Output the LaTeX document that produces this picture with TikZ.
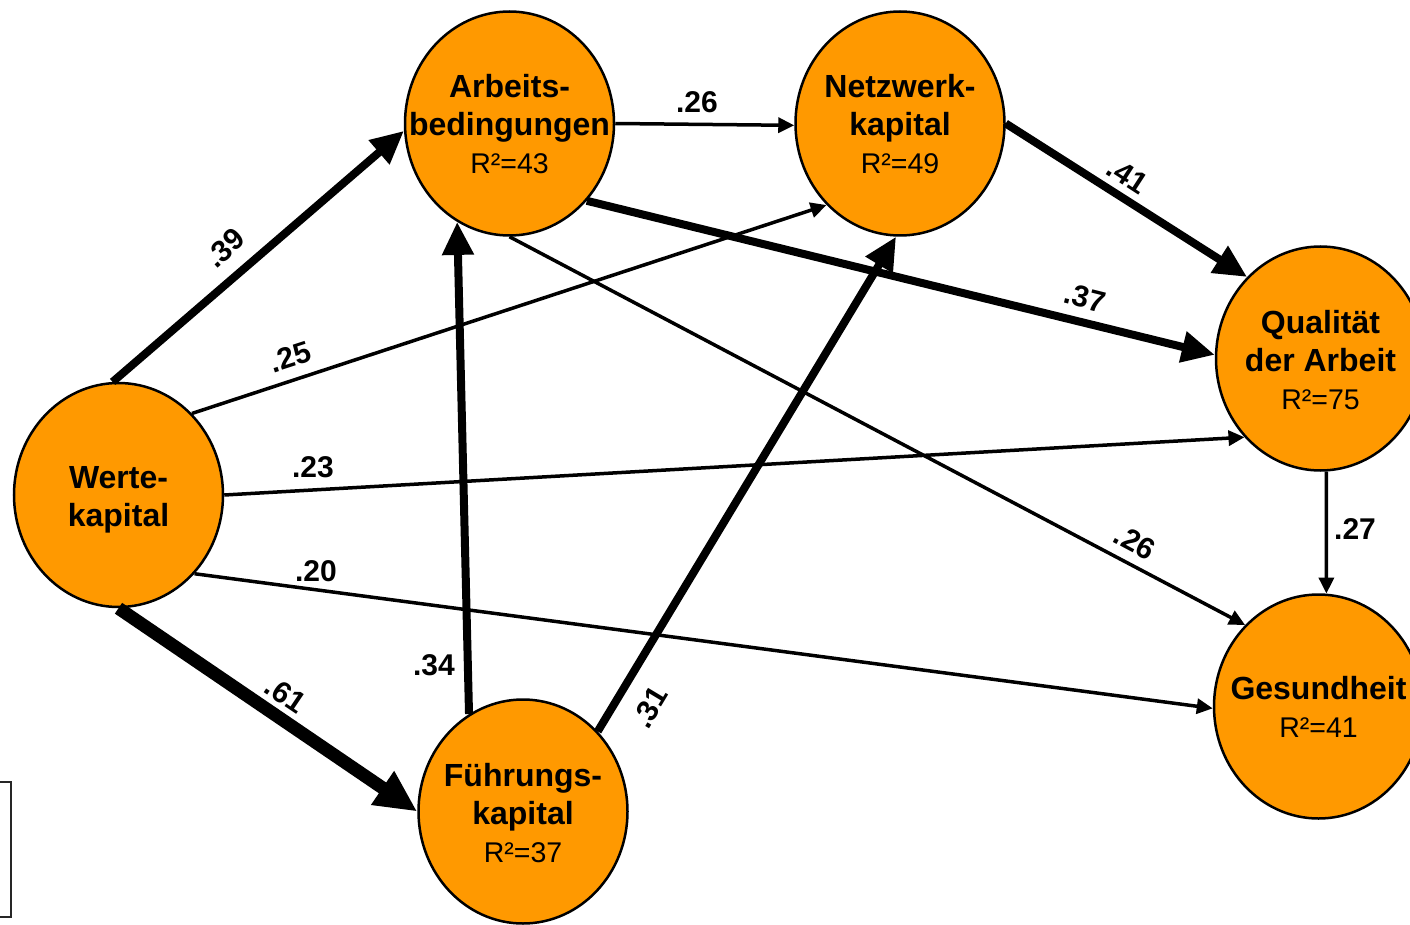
\documentclass[tikz,border=0pt]{standalone}
\usepackage{fontspec}
\setmainfont{Liberation Sans}
\usetikzlibrary{shapes.geometric,arrows.meta}
\definecolor{nodeorange}{RGB}{255,153,0}
\tikzset{
 var/.style={ellipse, draw=black, line width=2.5pt, fill=nodeorange, minimum width=209pt, minimum height=224pt, inner sep=0pt},
 vtext/.style={align=center, font=\fontsize{32}{38}\selectfont, text=black, inner sep=0pt},
 coef/.style={font=\fontsize{30}{36}\selectfont\bfseries, inner sep=0pt},
 pthin/.style={line width=3.5pt, -{Triangle[length=16pt,width=15pt]}},
 pthick/.style={line width=8pt, -{Triangle[length=33pt,width=30pt]}},
 pvthick/.style={line width=13pt, -{Triangle[length=42pt,width=38pt]}}
}
\newcommand{\rsqtext}[1]{{\fontsize{28.5}{38}\selectfont R²=#1}}
\begin{document}
\begin{tikzpicture}[x=1pt,y=-1pt]
\useasboundingbox (0,0) rectangle (1410,925);
% partial frame at bottom left
\draw[line width=2pt, black!85] (-5,782) -- (11,782) -- (11,917) -- (-5,917);
% variables
\node[var] (W) at (118.5,495) {};
\node[var] (A) at (509.5,123.5) {};
\node[var] (N) at (900,123.5) {};
\node[var] (Q) at (1320.5,358.5) {};
\node[var] (G) at (1318.5,706.5) {};
\node[var] (F) at (523,811.5) {};
\node[vtext] (Wt) at ([yshift=-5pt]W.center) {\textbf{Werte-}\\\textbf{kapital}};
\node[vtext] (At) at ([yshift=-1pt]A.center) {\textbf{Arbeits-}\\\textbf{bedingungen}\\\rsqtext{43}};
\node[vtext] (Nt) at ([yshift=-1pt]N.center) {\textbf{Netzwerk-}\\\textbf{kapital}\\\rsqtext{49}};
\node[vtext] (Qt) at ([yshift=-2pt]Q.center) {\textbf{Qualität}\\\textbf{der Arbeit}\\\rsqtext{75}};
\node[vtext] (Gt) at (G.center) {\textbf{Gesundheit}\\\rsqtext{41}};
\node[vtext] (Ft) at ([yshift=-2pt]F.center) {\textbf{Führungs-}\\\textbf{kapital}\\\rsqtext{37}};
% paths
\draw[pthick] (W.93) -- (A.184);
\draw[pthin] (W.48) -- (N.228);
\draw[pthin] (W.0.5) -- (Q.226.5);
\draw[pthin] (W.-46) -- (G.181.7);
\draw[pvthick] (W.-90) -- (F.180);
\draw[pthick] (F.119) -- (A.242);
\draw[pthick] (F.47.6) -- (N.268.5);
\draw[pthin] (A.0) -- (N.181);
\draw[pthick] (A.-45.7) -- (Q.178);
\draw[pthin] (A.-90) -- (G.132);
\draw[pthick] (N.0) -- (Q.132);
\draw[pthin] (Q.-87) -- (G.86);
% coefficients
\node[coef, rotate=41.6] (c39) at (225,248) {.39};
\node[coef, rotate=18] (c25) at (290,357) {.25};
\node[coef] (c23) at (313,467) {.23};
\node[coef] (c20) at (316,571) {.20};
\node[coef, rotate=-34] (c61) at (286,695) {.61};
\node[coef] (c34) at (434,665) {.34};
\node[coef, rotate=59] (c31) at (650,707) {.31};
\node[coef] (c26a) at (697,102) {.26};
\node[coef, rotate=-33] (c41) at (1128,176) {.41};
\node[coef, rotate=-14] (c37) at (1085,298) {.37};
\node[coef, rotate=-28] (c26b) at (1135,542) {.26};
\node[coef] (c27) at (1355,529) {.27};
\end{tikzpicture}
\end{document}
